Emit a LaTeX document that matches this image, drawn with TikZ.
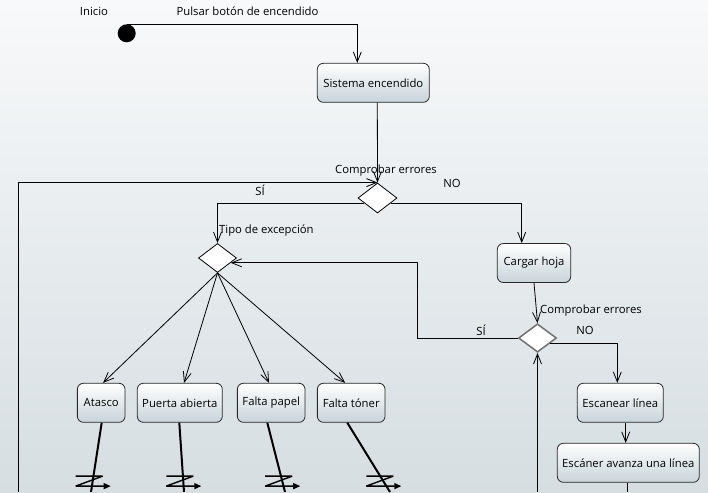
\documentclass[tikz,border=0pt]{standalone}
\usepackage{fontspec}
\setmainfont{Open Sans}
\usetikzlibrary{shapes.geometric,arrows.meta,calc}
\definecolor{bgtop}{RGB}{248,249,250}
\definecolor{bgbot}{RGB}{214,222,226}
\definecolor{boxbot}{RGB}{200,211,217}
\definecolor{boxline}{RGB}{40,40,40}
\definecolor{choicegray}{RGB}{112,112,112}

\begin{document}
\begin{tikzpicture}[x=1pt,y=-1pt,
  font=\fontsize{11.3}{13.5}\selectfont,
  state/.style={draw=boxline, line width=0.8pt, rounded corners=6pt,
    top color=white, bottom color=boxbot, minimum height=39pt,
    inner sep=0pt, text=black},
  choice/.style={diamond, draw=black, fill=white, line width=0.8pt,
    minimum width=39pt, minimum height=30pt, inner sep=0pt},
  flow/.style={draw=black, line width=0.8pt,
    -{Straight Barb[length=10pt,width=8pt]}},
  plain/.style={draw=black, line width=0.8pt},
  interrupt/.style={draw=black, line width=2pt},
  lbl/.style={inner sep=0pt, text=black},
  zmark/.pic={
    \draw[line width=1.4pt, line join=bevel,
      -{Triangle[length=7pt,width=6pt]}]
      (-17,-5) -- (10,-5) -- (-17,5) -- (18,5);
  }
]
% background
\shade[top color=bgtop, bottom color=bgbot] (0,0) rectangle (708,492);
\useasboundingbox (0,0) rectangle (708,492);

% initial state
\node[circle, fill=black, minimum size=18pt, inner sep=0pt] (start) at (126.7,33.3) {};
\node[lbl] (inicio) at (94,11) {Inicio};

% states
\node[state, minimum width=112pt] (sys) at (373.3,82.8) {Sistema encendido};
\node[state, minimum width=73.4pt] (cargar) at (534,263) {Cargar hoja};
\node[state, minimum width=47.7pt] (atasco) at (101.2,402.8) {Atasco};
\node[state, minimum width=85pt] (puerta) at (179.8,402.8) {Puerta abierta};
\node[state, minimum width=67.7pt] (papel) at (271.2,402.8) {Falta papel};
\node[state, minimum width=67.7pt] (toner) at (351.2,402.8) {Falta tóner};
\node[state, minimum width=86pt] (escanear) at (620.3,402.8) {Escanear línea};
\node[state, minimum width=142pt] (avanza) at (628.3,462.8) {Escáner avanza una línea};

% choices
\node[choice] (d1) at (377.5,198) {};
\node[choice, minimum width=38pt, minimum height=29pt] (d2) at (217.5,258) {};
\node[choice, draw=choicegray, line width=1.5pt, minimum width=38pt, minimum height=28.4pt] (d3) at (537.5,338) {};

% free ends along the lower edge
\coordinate (loopL) at (18,492);
\coordinate (loopR) at (537.5,492);
\coordinate (siX) at (417.3,263);
\coordinate (atE) at (91,492);
\coordinate (puE) at (184,492);
\coordinate (paE) at (285,492);
\coordinate (toE) at (390,492);
\coordinate (avE) at (627.3,492);

% transitions
\draw[flow] (start.north) -| ([xshift=40.4pt]sys.north west);
\node[lbl] (tPulsar) at (247.5,11) {Pulsar botón de encendido};

\draw[flow] ([xshift=4pt]sys.south) -- (d1.north);
\node[lbl, anchor=west] (tComp1) at (335,171) {Comprobar errores};

\draw[flow] (loopL) |- (d1.north);
\node[lbl] (tSi1) at (260,190) {SÍ};

\draw[flow] (d1.200) -| (d2.north);
\node[lbl, anchor=west] (tTipo) at (219,231) {Tipo de excepción};

\draw[flow] (d1.-20) -| ([xshift=-12.3pt]cargar.north);
\node[lbl] (tNo1) at (452,183) {NO};

\draw[flow] (d2.south) -- ([xshift=1.8pt]atasco.north);
\draw[flow] (d2.south) -- ([xshift=4.2pt]puerta.north);
\draw[flow] (d2.south) -- ([xshift=-2.2pt]papel.north);
\draw[flow] (d2.south) -- ([xshift=-6pt]toner.north);

\draw[flow] (cargar.south) -- (d3.north);
\node[lbl, anchor=west] (tComp2) at (540,311) {Comprobar errores};

\draw[flow] (d3.west) -| (d2.-20 -| siX) -- (d2.-20);
\node[lbl] (tSi2) at (481,330) {SÍ};

\draw[flow] (d3.-24) -| ([xshift=-3pt]escanear.north);
\node[lbl] (tNo2) at (585,330) {NO};

\draw[flow] (loopR) -- (d3.south);

\draw[flow] ([xshift=5.4pt]escanear.south) -- ([xshift=5.4pt]escanear.south |- avanza.north);
\draw[plain] ([xshift=-1pt]avanza.south) -- (avE);

% exception transitions with interrupt marks
\draw[interrupt] ([xshift=0.5pt]atasco.south) -- (atE);
\draw[interrupt] ([xshift=-0.5pt]puerta.south) -- (puE);
\draw[interrupt] ([xshift=-3.9pt]papel.south) -- (paE);
\draw[interrupt] ([xshift=-3.9pt]toner.south) -- (toE);
\pic at ($([xshift=0.5pt]atasco.south)!0.843!(atE)$) {zmark};
\pic at ($([xshift=-0.5pt]puerta.south)!0.843!(puE)$) {zmark};
\pic at ($([xshift=-3.9pt]papel.south)!0.843!(paE)$) {zmark};
\pic at ($([xshift=-3.9pt]toner.south)!0.843!(toE)$) {zmark};
\end{tikzpicture}
\end{document}
